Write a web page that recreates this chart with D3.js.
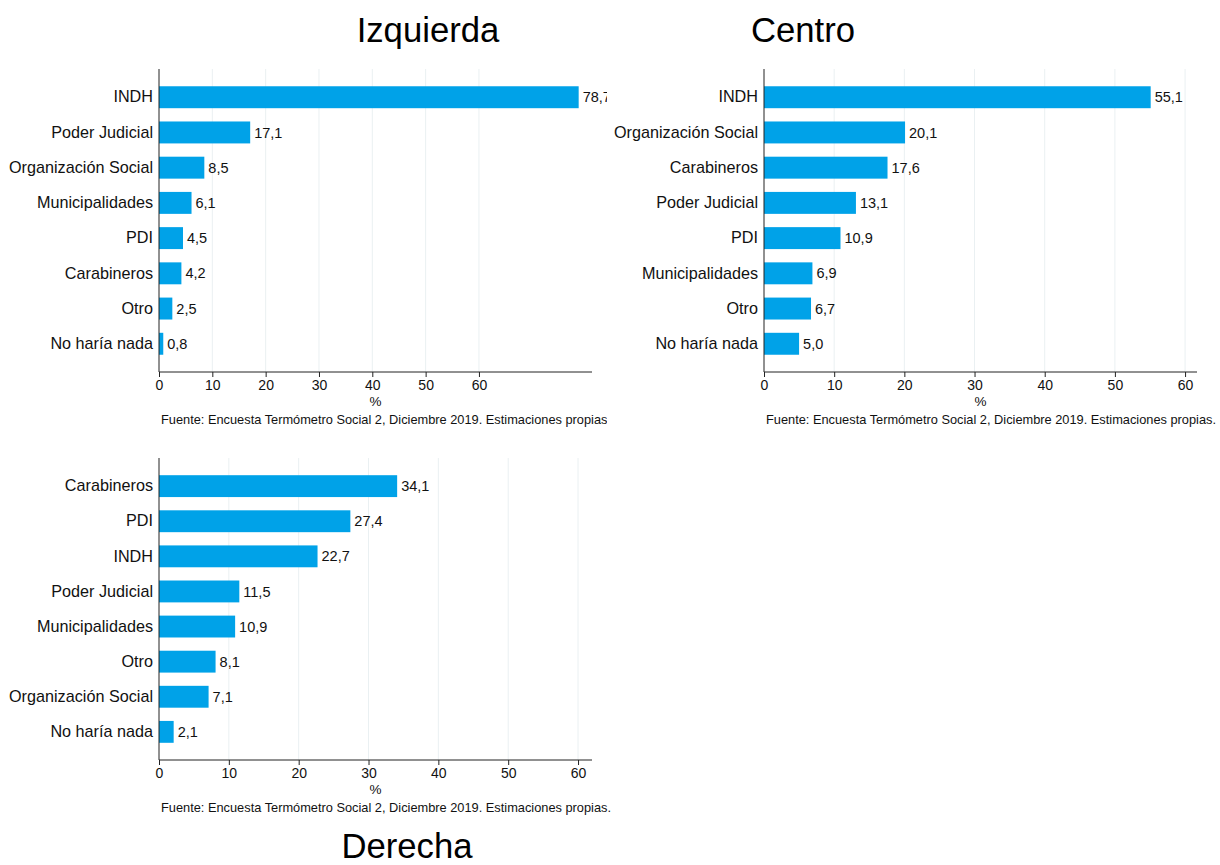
<!DOCTYPE html>
<html><head><meta charset="utf-8">
<script src="https://cdn.jsdelivr.net/npm/d3@7"></script>
<style>body{margin:0;background:#fff;}svg{display:block;font-family:"Liberation Sans",Arial,sans-serif;}</style>
</head><body>
<svg id="c" width="1220" height="865"></svg>
<script>
const izqCats = ["INDH","Poder Judicial","Organización Social","Municipalidades","PDI","Carabineros","Otro","No haría nada"];
const izqVals = [78.7,17.1,8.5,6.1,4.5,4.2,2.5,0.8];
const cenCats = ["INDH","Organización Social","Carabineros","Poder Judicial","PDI","Municipalidades","Otro","No haría nada"];
const cenVals = [55.1,20.1,17.6,13.1,10.9,6.9,6.7,5.0];
const derCats = ["Carabineros","PDI","INDH","Poder Judicial","Municipalidades","Otro","Organización Social","No haría nada"];
const derVals = [34.1,27.4,22.7,11.5,10.9,8.1,7.1,2.1];
const tickVals = [0,10,20,30,40,50,60];
const titles = ["Izquierda","Centro","Derecha"];
const source = "Fuente: Encuesta Termómetro Social 2, Diciembre 2019. Estimaciones propias.";

const svg = d3.select("#c");
const fmt = v => d3.format(".1f")(v).replace(".", ",");
const FF = "\"Liberation Sans\",Arial,sans-serif";

const panels = [
  {cats: izqCats, vals: izqVals, x0:159, x1:592, y0:69, y1:372, xmax:81.2, clip:[0,0,607,440], title:titles[0], tx:428, ty:42},
  {cats: cenCats, vals: cenVals, x0:764, x1:1197, y0:69, y1:372, xmax:61.7, clip:[607,0,613,440], title:titles[1], tx:803, ty:42},
  {cats: derCats, vals: derVals, x0:159, x1:592, y0:458, y1:760, xmax:62, clip:[0,440,620,380], title:titles[2], tx:407, ty:858}
];

const defs = svg.append("defs");
panels.forEach((p,i) => {
  defs.append("clipPath").attr("id","clip"+i).append("rect")
    .attr("x",p.clip[0]).attr("y",p.clip[1]).attr("width",p.clip[2]).attr("height",p.clip[3]);
  const g = svg.append("g").attr("clip-path","url(#clip"+i+")");
  const x = d3.scaleLinear().domain([0,p.xmax]).range([p.x0,p.x1]);
  const y = d3.scaleBand().domain(p.cats).range([p.y0,p.y1]).paddingInner(0.377).paddingOuter(0.49);
  g.selectAll(".grid").data(tickVals.filter(t=>t>0)).enter().append("line")
    .attr("x1",d=>x(d)).attr("x2",d=>x(d)).attr("y1",p.y0).attr("y2",p.y1)
    .attr("stroke","#eaf0f2").attr("stroke-width",1);
  g.selectAll(".bar").data(p.vals).enter().append("rect")
    .attr("x",x(0)).attr("y",(d,j)=>y(p.cats[j]))
    .attr("width",d=>x(d)-x(0)).attr("height",y.bandwidth())
    .attr("fill","#00a2e8");
  g.selectAll(".vl").data(p.vals).enter().append("text")
    .attr("x",d=>x(d)+4).attr("y",(d,j)=>y(p.cats[j])+y.bandwidth()/2)
    .attr("dy","0.35em").attr("font-size",14.5).attr("fill","#111")
    .text(d=>fmt(d));
  const xa = g.append("g").attr("transform",`translate(0,${p.y1})`)
    .call(d3.axisBottom(x).tickValues(tickVals).tickSize(5).tickPadding(3).tickFormat(d3.format("d")));
  xa.select(".domain").attr("stroke","#222").attr("d",`M${p.x0},0H${p.x1}`);
  xa.selectAll(".tick line").attr("stroke","#222");
  xa.selectAll("text").attr("font-size",14).attr("fill","#111").attr("font-family",FF);
  const ya = g.append("g").attr("transform",`translate(${p.x0},0)`)
    .call(d3.axisLeft(y).tickSize(0).tickPadding(6));
  ya.select(".domain").attr("stroke","#222").attr("d",`M0,${p.y0}V${p.y1}`);
  ya.selectAll("text").attr("font-size",16.2).attr("fill","#111").attr("font-family",FF);
  g.append("text").attr("x",(p.x0+p.x1)/2).attr("y",p.y1+34).attr("text-anchor","middle")
    .attr("font-size",13.5).attr("fill","#111").text("%");
  g.append("text").attr("x",p.x0+2).attr("y",p.y1+52)
    .attr("font-size",12.8).attr("fill","#111").text(source);
  svg.append("text").attr("x",p.tx).attr("y",p.ty).attr("text-anchor","middle")
    .attr("font-size",34.7).attr("fill","#000").text(p.title);
});
</script>
</body></html>
